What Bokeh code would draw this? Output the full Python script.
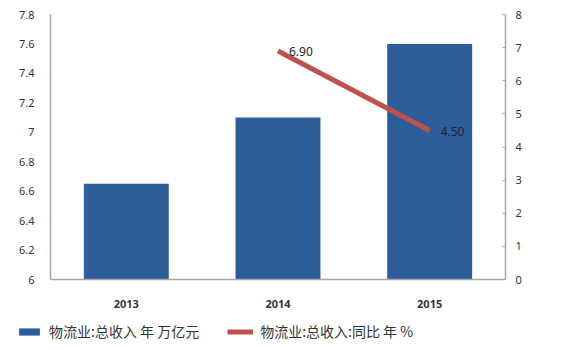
from bokeh.plotting import figure
from bokeh.models import Range1d, LinearAxis, Legend, LegendItem, ColumnDataSource, FixedTicker
from bokeh.layouts import column, row
from bokeh.embed import file_html
from bokeh.resources import INLINE
from bokeh.core.properties import value

years = ["2013", "2014", "2015"]
revenue = [6.65, 7.1, 7.6]
growth_years = ["2014", "2015"]
growth = [6.90, 4.50]
growth_labels = ["6.90", "4.50"]
left_ticks = [6, 6.2, 6.4, 6.6, 6.8, 7, 7.2, 7.4, 7.6, 7.8]
right_ticks = [0, 1, 2, 3, 4, 5, 6, 7, 8]
bar_label = "物流业:总收入 年 万亿元"
line_label = "物流业:总收入:同比 年 %"

BAR_COLOR = "#2E5D9C"
LINE_COLOR = "#C0504D"

p = figure(width=566, height=310, x_range=years, y_range=Range1d(6, 7.8),
           output_backend="svg", toolbar_location=None,
           min_border_left=50, min_border_right=61, min_border_top=14, min_border_bottom=10)
p.outline_line_color = None
p.xgrid.visible = False
p.ygrid.visible = False
p.border_fill_color = "white"

p.extra_y_ranges = {"pct": Range1d(0, 8)}

src = ColumnDataSource(dict(x=years, top=revenue))
p.vbar(x="x", top="top", bottom=6, width=0.56, source=src,
       fill_color=BAR_COLOR, line_color=None)

lsrc = ColumnDataSource(dict(x=growth_years, y=growth, t=growth_labels))
p.line(x="x", y="y", source=lsrc, y_range_name="pct", line_color=LINE_COLOR, line_width=5)
p.text(x="x", y="y", text="t", source=lsrc, y_range_name="pct", x_offset=11, y_offset=1,
       text_font=value("Noto Sans"), text_font_size="12px", text_color="#222222",
       text_baseline="middle", text_align="left")

tick_font = "Noto Sans"
ax = p.yaxis[0]
ax.ticker = FixedTicker(ticks=left_ticks)
ax.axis_line_color = "#A6A6A6"
ax.axis_line_width = 1.5
ax.major_tick_line_color = None
ax.minor_tick_line_color = None
ax.major_label_text_font = tick_font
ax.major_label_text_font_size = "11px"
ax.major_label_text_color = "#333333"
ax.major_label_standoff = 10

rax = LinearAxis(y_range_name="pct", ticker=FixedTicker(ticks=right_ticks))
rax.axis_line_color = "#A6A6A6"
rax.axis_line_width = 1.5
rax.major_tick_line_color = "#A6A6A6"
rax.major_tick_in = 3
rax.major_tick_out = 0
rax.minor_tick_line_color = None
rax.major_label_text_font = tick_font
rax.major_label_text_font_size = "11px"
rax.major_label_text_color = "#333333"
rax.major_label_standoff = 10
p.add_layout(rax, "right")

xa = p.xaxis[0]
xa.axis_line_color = "#A6A6A6"
xa.axis_line_width = 1.5
xa.major_tick_line_color = None
xa.minor_tick_line_color = None
xa.major_label_text_font = tick_font
xa.major_label_text_font_size = "11px"
xa.major_label_text_font_style = "bold"
xa.major_label_text_color = "#333333"
xa.major_label_standoff = 14

# legend strip below the chart (proxy glyphs sit outside the visible range)
q = figure(width=566, height=39, x_range=Range1d(0, 1), y_range=Range1d(0, 1),
           output_backend="svg", toolbar_location=None,
           x_axis_location=None, y_axis_location=None,
           min_border_left=0, min_border_right=0, min_border_top=0, min_border_bottom=0)
q.grid.visible = False
q.outline_line_color = None
proxy_bar = q.vbar(x=[10], top=[10], bottom=[9], width=0.5, fill_color=BAR_COLOR, line_color=None)
proxy_line = q.line(x=[10, 11], y=[10, 10], line_color=LINE_COLOR, line_width=5)

legend = Legend(items=[LegendItem(label=bar_label, renderers=[proxy_bar]),
                       LegendItem(label=line_label, renderers=[proxy_line])],
                orientation="horizontal", location=(16, 8),
                label_text_font="Noto Sans CJK SC", label_text_font_size="14px",
                label_text_color="#333333", glyph_width=26, glyph_height=9,
                spacing=28, label_standoff=7, background_fill_alpha=0,
                border_line_color=None, margin=0, padding=4)
q.add_layout(legend, "center")

layout = column(p, row(q, spacing=0), spacing=0)

open("out.html", "w").write(file_html(layout, INLINE))
